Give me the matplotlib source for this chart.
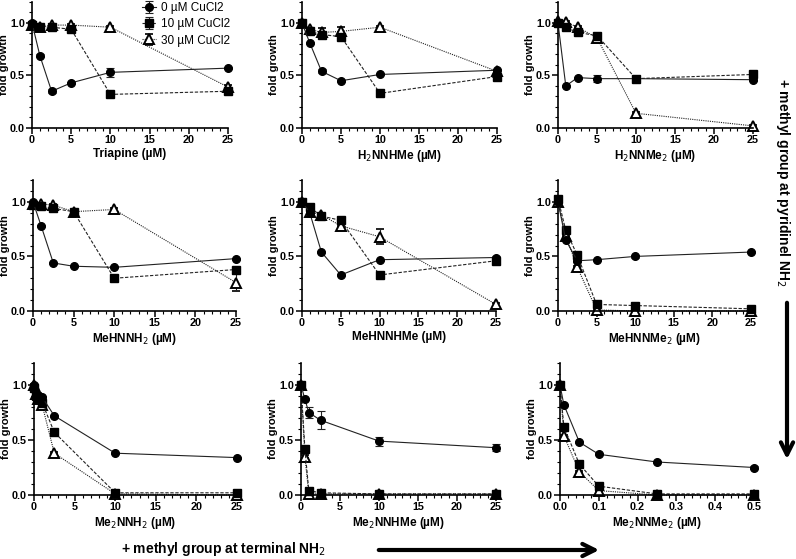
import matplotlib
matplotlib.use("Agg")
import matplotlib.pyplot as plt
from matplotlib.ticker import MultipleLocator
from matplotlib.patches import FancyArrowPatch

plt.rcParams['font.family'] = ['Liberation Sans', 'DejaVu Sans']

# ---------------- data ----------------
compounds = ["Triapine", "H$_2$NNHMe", "H$_2$NNMe$_2$",
             "MeHNNH$_2$", "MeHNNHMe", "MeHNNMe$_2$",
             "Me$_2$NNH$_2$", "Me$_2$NNHMe", "Me$_2$NNMe$_2$"]
series_labels = ["0 µM CuCl2", "10 µM CuCl2", "30 µM CuCl2"]

conc = [
    [0, 1, 2.5, 5, 10, 25],
    [0, 1, 2.5, 5, 10, 25],
    [0, 1, 2.5, 5, 10, 25],
    [0, 1, 2.5, 5, 10, 25],
    [0, 1, 2.5, 5, 10, 25],
    [0, 1, 2.5, 5, 10, 25],
    [0, 0.25, 0.5, 1, 2.5, 10, 25],
    [0, 0.5, 1, 2.5, 10, 25],
    [0, 0.01, 0.05, 0.1, 0.25, 0.5],
]
cu0 = [
    [1.00, 0.69, 0.35, 0.43, 0.53, 0.57],
    [1.00, 0.81, 0.54, 0.45, 0.51, 0.55],
    [1.00, 0.40, 0.48, 0.47, 0.47, 0.46],
    [1.00, 0.78, 0.44, 0.41, 0.40, 0.48],
    [1.00, 0.90, 0.54, 0.33, 0.47, 0.49],
    [1.00, 0.65, 0.46, 0.47, 0.50, 0.54],
    [1.00, 0.93, 0.91, 0.89, 0.72, 0.38, 0.34],
    [1.00, 0.87, 0.75, 0.68, 0.49, 0.43],
    [1.00, 0.82, 0.48, 0.37, 0.30, 0.25],
]
cu10 = [
    [0.98, 0.96, 0.96, 0.94, 0.32, 0.35],
    [1.00, 0.92, 0.89, 0.87, 0.33, 0.49],
    [1.00, 0.96, 0.91, 0.88, 0.47, 0.51],
    [0.97, 0.96, 0.94, 0.91, 0.30, 0.38],
    [1.00, 0.95, 0.87, 0.83, 0.33, 0.46],
    [1.03, 0.74, 0.51, 0.06, 0.05, 0.02],
    [0.97, 0.90, 0.88, 0.84, 0.57, 0.02, 0.02],
    [1.00, 0.42, 0.04, 0.02, 0.01, 0.01],
    [1.00, 0.62, 0.28, 0.08, 0.01, 0.01],
]
cu30 = [
    [0.98, 0.96, 0.98, 0.98, 0.96, 0.39],
    [1.00, 0.94, 0.91, 0.92, 0.96, 0.54],
    [1.02, 1.01, 0.96, 0.86, 0.14, 0.02],
    [0.98, 0.98, 0.97, 0.91, 0.93, 0.26],
    [1.00, 0.91, 0.88, 0.78, 0.68, 0.06],
    [1.00, 0.69, 0.40, 0.01, 0.00, 0.00],
    [1.00, 0.92, 0.87, 0.82, 0.38, 0.01, 0.00],
    [1.00, 0.35, 0.01, 0.01, 0.01, 0.01],
    [1.00, 0.54, 0.21, 0.04, 0.00, 0.00],
]
err0 = [
    [0.02, 0.01, 0.02, 0.01, 0.04, 0.01],
    [0.01, 0.01, 0.02, 0.01, 0.01, 0.01],
    [0.01, 0.01, 0.01, 0.03, 0.01, 0.01],
    [0.01, 0.01, 0.01, 0.01, 0.01, 0.01],
    [0.01, 0.01, 0.01, 0.01, 0.01, 0.01],
    [0.01, 0.01, 0.01, 0.01, 0.01, 0.01],
    [0.01, 0.01, 0.01, 0.01, 0.01, 0.01, 0.01],
    [0.01, 0.01, 0.05, 0.08, 0.04, 0.03],
    [0.01, 0.01, 0.01, 0.01, 0.01, 0.01],
]
err10 = [
    [0.01, 0.01, 0.01, 0.02, 0.01, 0.01],
    [0.01, 0.01, 0.02, 0.01, 0.03, 0.01],
    [0.01, 0.01, 0.01, 0.01, 0.01, 0.01],
    [0.01, 0.01, 0.01, 0.01, 0.01, 0.01],
    [0.01, 0.01, 0.01, 0.01, 0.01, 0.01],
    [0.01, 0.01, 0.01, 0.01, 0.01, 0.01],
    [0.01, 0.01, 0.01, 0.01, 0.01, 0.01, 0.01],
    [0.01, 0.01, 0.01, 0.01, 0.01, 0.01],
    [0.01, 0.01, 0.01, 0.01, 0.01, 0.01],
]
err30 = [
    [0.01, 0.01, 0.01, 0.01, 0.01, 0.02],
    [0.01, 0.01, 0.04, 0.04, 0.01, 0.01],
    [0.01, 0.01, 0.01, 0.01, 0.01, 0.01],
    [0.01, 0.01, 0.01, 0.01, 0.01, 0.08],
    [0.01, 0.01, 0.01, 0.01, 0.07, 0.01],
    [0.01, 0.01, 0.01, 0.01, 0.01, 0.01],
    [0.01, 0.01, 0.01, 0.01, 0.01, 0.01, 0.01],
    [0.01, 0.01, 0.01, 0.01, 0.01, 0.01],
    [0.01, 0.01, 0.01, 0.01, 0.01, 0.01],
]
xmax = [25, 25, 25, 25, 25, 25, 25, 25, 0.5]

# ---------------- layout (pixel boxes: left, right, top, bottom) ----------------
W, H = 796, 559
boxes = [
    (32, 228, 2, 128), (302, 497, 2, 128), (558, 753, 2, 128),
    (33, 236, 180, 311), (302, 496, 180, 311), (558, 751, 180, 311),
    (34, 237, 363, 495), (301, 496, 363, 495), (560, 754, 363, 495),
]

fig = plt.figure(figsize=(W / 100, H / 100), dpi=100)

styles = [
    dict(marker='o', linestyle='-', mfc='black', mec='black', ms=5.5),
    dict(marker='s', linestyle=(0, (3, 1.5)), mfc='black', mec='black', ms=5.5),
    dict(marker='^', linestyle=(0, (1, 1)), mfc='white', mec='black', mew=1.4, ms=6.5),
]

for i in range(9):
    l, r, t, b = boxes[i]
    ax = fig.add_axes([l / W, 1 - b / H, (r - l) / W, (b - t) / H])
    for ys, es, st, lab in zip((cu30[i], cu10[i], cu0[i]), (err30[i], err10[i], err0[i]),
                               styles[::-1], series_labels[::-1]):
        ax.errorbar(conc[i], ys, yerr=es, color='#222222', lw=0.8,
                    capsize=3, elinewidth=0.8, capthick=0.8, clip_on=False,
                    label=lab, **st)
    ax.set_xlim(0, xmax[i])
    ax.set_ylim(0, 1.2)
    ax.set_yticks([0, 0.5, 1.0])
    ax.set_yticklabels(['0.0', '0.5', '1.0'])
    ax.yaxis.set_minor_locator(MultipleLocator(0.1))
    if xmax[i] == 25:
        ax.set_xticks([0, 5, 10, 15, 20, 25])
        ax.xaxis.set_minor_locator(MultipleLocator(1))
    else:
        ax.set_xticks([0, 0.1, 0.2, 0.3, 0.4, 0.5])
        ax.set_xticklabels(['0.0', '0.1', '0.2', '0.3', '0.4', '0.5'])
        ax.xaxis.set_minor_locator(MultipleLocator(0.02))
    for s in ('top', 'right'):
        ax.spines[s].set_visible(False)
    for s in ('left', 'bottom'):
        ax.spines[s].set_linewidth(1.2)
    ax.tick_params(which='major', length=4, width=1.1, labelsize=7.8, pad=1)
    ax.tick_params(which='minor', length=2, width=0.8)
    for lbl in ax.get_xticklabels() + ax.get_yticklabels():
        lbl.set_fontweight('bold')
    ax.set_ylabel('fold growth', fontsize=8, fontweight='bold', labelpad=0.5)
    ax.set_xlabel(compounds[i] + ' (µM)', fontsize=8.5, fontweight='bold', labelpad=2)
    if i == 0:
        h, lb = ax.get_legend_handles_labels()
        ax.legend(h[::-1], lb[::-1], loc='upper right', bbox_to_anchor=(1.035, 1.035),
                  frameon=False, fontsize=8.5, handlelength=1.2, handletextpad=0.45,
                  labelspacing=0.35, borderaxespad=0)

# right-side annotation
fig.text(783 / W, 1 - 182 / H, '+ methyl group at pyridinel NH$_2$', rotation=270,
         ha='center', va='center', fontsize=10, fontweight='bold')
fig.add_artist(FancyArrowPatch(
    (787 / W, 1 - 300 / H), (787 / W, 1 - 462 / H), transform=fig.transFigure,
    arrowstyle='->', mutation_scale=22, lw=3, color='black'))

# bottom annotation
fig.text(224 / W, 1 - 549 / H, '+ methyl group at terminal NH$_2$',
         ha='center', va='center', fontsize=10, fontweight='bold')
fig.add_artist(FancyArrowPatch(
    (376 / W, 1 - 550 / H), (602 / W, 1 - 550 / H), transform=fig.transFigure,
    arrowstyle='->', mutation_scale=22, lw=3, color='black'))

fig.savefig('out.png', dpi=100)
